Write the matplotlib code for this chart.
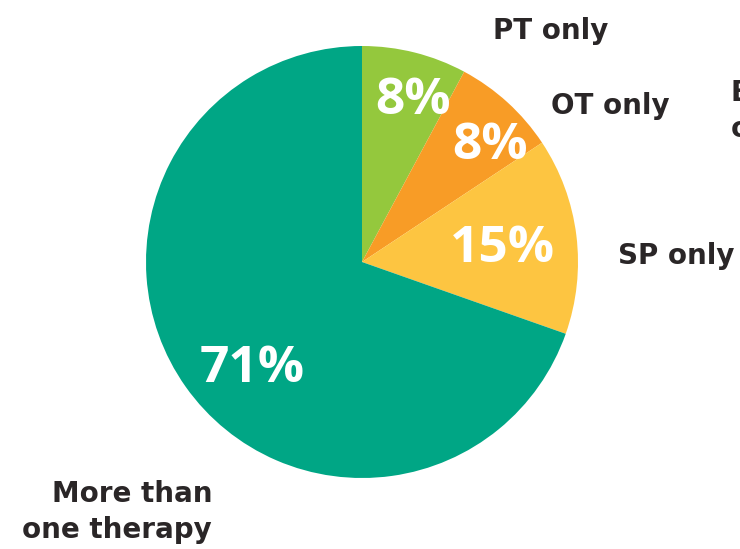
import matplotlib
matplotlib.use("Agg")
import matplotlib.pyplot as plt

# therapy type shares (%) as printed on the chart, clockwise from 12 o'clock
categories = ["PT only", "OT only", "SP only", "More than\none therapy"]
shares = [8, 8, 15, 71]
pct_labels = ["8%", "8%", "15%", "71%"]
colors = ["#94c83d", "#f89c26", "#fdc541", "#00a685"]

W, H = 740, 549
CX, CY, R = 362, H - 262, 216

fig = plt.figure(figsize=(W / 100, H / 100), dpi=100)
ax = fig.add_axes([0, 0, 1, 1])

ax.pie(shares, colors=colors, startangle=90, counterclock=False,
       center=(CX, CY), radius=R, frame=True,
       wedgeprops=dict(linewidth=0))
ax.set_xlim(0, W)
ax.set_ylim(0, H)
ax.set_aspect("equal")
ax.axis("off")

# percentage labels inside the wedges (pixel positions, top-left origin)
pct_pos = [(413, 101), (490, 146), (502, 249), (252, 369)]
for (x, y), t in zip(pct_pos, pct_labels):
    ax.text(x, H - y, t, color="white", fontsize=37, fontweight="bold",
            family="Open Sans", ha="center", va="center")

lab = dict(fontsize=20, color="#2a2627", family="DejaVu Sans", fontweight="bold")
ax.text(551, H - 31, categories[0], ha="center", va="center", **lab)
ax.text(610, H - 106, categories[1], ha="center", va="center", **lab)
ax.text(676, H - 256, categories[2], ha="center", va="center", **lab)
ax.text(212, H - 512, categories[3], ha="right", va="center",
        linespacing=1.35, **lab)
# label that runs off the right edge in the original
ax.text(731, H - 111, "Both PT\nor OT", ha="left", va="center",
        linespacing=1.35, **lab)

fig.savefig("out.png", dpi=100)
